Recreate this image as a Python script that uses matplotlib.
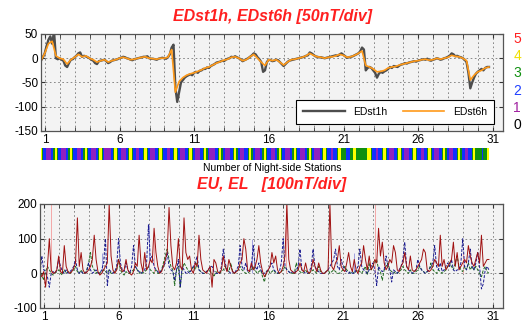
import numpy as np
import matplotlib
matplotlib.use('Agg')
import matplotlib.pyplot as plt
from matplotlib.colors import ListedColormap, BoundaryNorm

plt.rcParams['font.family'] = ['Liberation Sans', 'DejaVu Sans']
plt.rcParams['axes.unicode_minus'] = False

# time grid (days of month)
t0 = 0.73

# EDst6h, 4 values per day
edst6h_rows = [
    [-5, 10, 30, 35], [5, 0, -2, -12], [-3, 2, 8, 3], [5, 0, -3, -8],
    [-5, -3, -8, -5], [-3, 0, 2, 0], [-3, -2, 0, 2], [3, 0, -1, -2],
    [0, 0, 2, 18], [-70, -48, -40, -35], [-32, -30, -27, -24], [-20, -18, -14, -10],
    [-7, -4, -2, 2], [3, 0, -5, -3], [3, 8, 0, -8], [-15, -3, -5, -3],
    [-8, -14, -8, -3], [-2, 0, 2, 5], [10, 6, 3, 2], [0, 2, 3, 5],
    [8, 6, 2, 3], [6, 10, 15, -15], [-18, -22, -28, -27], [-25, -20, -18, -17],
    [-14, -12, -10, -8], [-6, -5, -3, -2], [-4, -3, 0, -2], [0, 2, 6, 4],
    [3, 0, -5, -45], [-35, -28, -25, -20], [-18]]

# EDst1h, 8 values per day
edst1h_rows = [
    [-5, 2, 10, 25, 38, 45, 30, 55], [0, -2, 0, -3, -5, -15, -18, -10],
    [-3, -2, 2, 5, 10, 12, 3, 5], [4, 2, 0, -3, -5, -10, -12, -6],
    [-5, -4, -3, -6, -10, -8, -5, -4], [-3, -2, 0, 1, 3, 2, 0, -1],
    [-3, -4, -2, -1, 0, 1, 2, 3], [3, 4, 0, -1, -1, -2, -3, -1],
    [0, 1, 0, -1, 2, 8, 22, 28], [-60, -90, -70, -50, -45, -40, -37, -35],
    [-33, -35, -30, -28, -30, -26, -25, -22], [-22, -19, -20, -16, -14, -12, -9, -8],
    [-7, -5, -6, -3, -1, 0, 3, 2], [4, 2, 0, -2, -6, -4, -2, 0],
    [3, 6, 10, 8, 2, -2, -8, -28], [-25, -8, -3, -4, -6, -5, -3, -4],
    [-8, -12, -16, -12, -8, -5, -4, -3], [-2, -1, 0, 1, 2, 3, 5, 6],
    [12, 10, 7, 4, 3, 2, 2, 1], [0, 1, 2, 3, 4, 5, 6, 5],
    [8, 10, 7, 4, 1, 2, 3, 4], [6, 8, 10, 14, 22, 18, -25, -20],
    [-18, -20, -25, -30, -40, -32, -28, -30], [-27, -25, -22, -18, -20, -16, -17, -18],
    [-15, -13, -12, -10, -11, -9, -8, -7], [-6, -7, -5, -4, -3, -2, -3, -1],
    [-4, -5, -3, -2, 0, -1, -3, -2], [0, 1, 3, 5, 10, 8, 4, 5],
    [3, 2, 0, -3, -8, -30, -62, -50], [-40, -32, -28, -25, -22, -25, -20, -18],
    [-18]]

# number of night-side stations, 12 values per day
stations_days = [
    "432211112234", "432211112234", "432221112234", "432211112234", "432111112234",
    "432211112234", "432211122234", "432211112234", "432221112234", "432211112234",
    "432211112234", "432111112234", "432211112234", "432211122234", "432211112234",
    "432221112234", "432211112234", "432211112234", "432111112234", "432221122234",
    "433332223334", "433333333344", "432221122234", "432211112234", "432211112234",
    "432221112234", "432211112234", "432211122234", "432221122234", "433333233344"]

# EU / EL components, 8 values per day
red_rows = [
    [0, -10, 5, -40, 20, 100, 10, 0], [2, 10, 50, 5, 0, 80, 20, 5],
    [0, 5, 15, 30, 160, 20, 60, 10], [0, 3, 10, 20, 40, 110, 40, 5],
    [-5, 0, 10, 20, 30, 200, 50, 10], [0, 10, 40, 20, 5, 10, 40, 10],
    [0, -5, 5, 30, 20, 110, 30, 5], [60, 10, 20, 40, 30, 130, 60, 20],
    [0, 5, 20, 40, 60, 190, 80, 20], [10, 30, 100, 20, 10, 160, 60, 40],
    [50, 10, 0, 30, 20, 110, 40, 10], [5, 0, 10, 20, -40, 40, 30, 5],
    [0, 10, 50, 20, 5, 40, 20, 5], [0, 5, 10, 30, 40, 100, 70, 10],
    [5, 30, 10, 20, 40, 80, 30, 5], [-10, 0, 10, 20, 60, 30, 50, 10],
    [0, 5, 20, 50, 200, 40, 10, 5], [0, 5, 10, 30, 10, 5, 30, 5],
    [0, 10, 40, 20, 5, 30, 10, 0], [0, 5, 10, 200, 20, 10, 30, 40],
    [80, 20, 10, 5, 30, 60, 20, 5], [40, 10, 0, 20, 30, 80, 40, 10],
    [50, 10, 20, 40, 30, 130, 50, 90], [30, 10, 20, 40, 30, 80, 60, 10],
    [5, 20, 30, 60, 20, 10, 50, 10], [5, 10, 20, 30, 40, 70, 60, 10],
    [5, 10, 20, 40, 30, 20, 110, 20], [40, 10, 20, 30, 40, 90, 20, 60],
    [10, 20, 30, 40, 30, 80, 50, 30], [20, 40, 60, 30, 110, 20, 30, 40],
    [40]]

blue_rows = [
    [0, 50, 10, 5, -10, -40, 0, 5], [0, 10, 40, 20, 5, 0, 10, 0],
    [5, 10, 20, 40, 10, 0, 5, 0], [0, 5, 30, 10, 0, 5, 10, 0],
    [0, 10, 30, 100, -35, 10, 5, 0], [5, 20, 100, 30, 10, 5, 30, 10],
    [0, 20, 80, 20, 10, 5, 0, 5], [10, 30, 140, 40, 50, 20, 10, 5],
    [0, 10, 20, 30, 60, 20, 10, 5], [-20, 10, 40, -40, 20, 10, 0, 5],
    [0, 10, 20, 30, 50, 10, 5, 0], [0, 5, 10, 20, 20, 5, 0, 0],
    [0, 20, 70, 30, 10, 5, 0, 5], [0, 10, 20, 80, 20, 10, 30, 5],
    [5, 20, 80, 20, 10, 30, 10, 0], [0, 5, 10, 20, 30, 10, 5, 0],
    [5, 30, 100, 20, 10, 5, 0, 5], [0, 10, 20, 70, 10, 5, 0, 0],
    [5, 20, 70, 20, 10, 5, 0, 0], [0, 5, 10, 20, 30, 40, 70, 20],
    [10, 40, 20, 10, 5, 0, 5, 0], [0, 10, 20, 70, 20, 10, 5, 0],
    [10, 20, 30, 10, -35, 20, 10, 5], [10, 50, 20, 10, -25, 10, 5, 0],
    [10, 20, 40, 90, 20, 10, 5, 0], [5, 10, 40, 20, 10, 5, 0, 5],
    [10, 20, 30, 80, 20, 10, 30, 5], [10, 20, 30, 20, 40, 10, 5, 10],
    [10, 30, 100, 20, 10, 30, 70, 20], [10, 30, 60, 20, -45, -30, 10, 20],
    [10]]

green_rows = [
    [0, -5, -20, 5, 20, 10, 0, -5], [0, 5, 10, 0, -5, 10, 0, 5],
    [0, 5, 10, 20, 5, 0, 10, 0], [0, 10, 30, 60, 20, 10, 0, 5],
    [0, 5, 10, 5, 0, 10, 0, 0], [5, 10, 40, 10, 0, -5, 5, 0],
    [0, 5, 10, 20, 10, 0, 5, 0], [5, 10, 20, 10, 5, 0, 10, 0],
    [0, 10, 30, 50, 70, 40, 20, 10], [-35, 10, 20, -40, 10, 30, 20, 10],
    [5, 10, 20, 10, 30, 10, 5, 0], [0, 5, 10, 5, 0, -10, 5, 0],
    [0, 5, 10, 20, 10, 5, 30, 5], [0, 5, 10, 20, 10, 5, 0, 0],
    [5, 10, 20, 10, 0, 5, 10, -10], [-25, 5, 10, 0, 5, 10, 0, 0],
    [0, 5, 10, 20, 10, 5, 0, 0], [0, 30, 10, 5, 0, 5, 10, 0],
    [0, 5, 10, 5, 0, 20, 5, 0], [0, 5, 10, 0, 5, 10, 5, 0],
    [0, 5, 10, 20, 10, 5, 0, 5], [0, 5, 10, 5, 0, 10, 20, -5],
    [30, 10, 20, 30, 40, 10, 5, -20], [10, 20, 30, 10, 5, 0, 5, 0],
    [5, 10, 20, 10, 5, 0, 10, 0], [0, 5, 10, 20, 10, 5, 0, 5],
    [10, 30, 10, 5, 0, 10, 5, 0], [5, 10, 20, 30, 20, 10, 30, 50],
    [20, 10, 5, 20, 10, 30, 10, 20], [10, 20, 10, 0, -10, 10, 20, 5],
    [0]]

# thin light spikes
pink_days = [1.45, 8.35, 17.2, 23.15, 29.0]
pink_vals = [200, 100, 200, 200, 60]
lblue_days = [4.9, 8.0, 14.9, 21.7]
lblue_vals = [60, 140, 100, 60]

station_labels = ['5', '4', '3', '2', '1', '0']
station_colors = ['#ff2020', '#f0e000', '#109010', '#2040ff', '#a020a0', 'black']

major_days = [1, 6, 11, 16, 21, 26, 31]

def flat(rows):
    return np.array([v for r in rows for v in r], dtype=float)

e6 = flat(edst6h_rows)
e1 = flat(edst1h_rows)
t6 = t0 + np.arange(len(e6)) * 0.25
t1 = t0 + np.arange(len(e1)) * 0.125
red = flat(red_rows)
blue = flat(blue_rows)
green = flat(green_rows)
tb = t0 + np.arange(len(red)) * 0.125
st = np.array([[int(c) for c in ''.join(stations_days)]])

W, H = 532, 322
fig = plt.figure(figsize=(W / 100, H / 100), dpi=100)

def frac(x0, y0, x1, y1):
    return [x0 / W, 1 - y1 / H, (x1 - x0) / W, (y1 - y0) / H]

xlim = (0.732, 31.67)

def style(ax):
    ax.set_facecolor('#f3f3f3')
    ax.set_xlim(xlim)
    ax.set_xticks(major_days)
    ax.set_xticks(range(1, 32), minor=True)
    ax.tick_params(which='both', direction='in', top=True, right=True,
                   labelsize=8.5, pad=2, length=3, color='#333333')
    ax.grid(True, which='both', axis='x', ls=(0, (2, 3)), color='#777777', lw=0.6)
    ax.grid(True, which='major', axis='y', ls=(0, (2, 3)), color='#777777', lw=0.6)
    for s in ax.spines.values():
        s.set_color('#555555')
        s.set_linewidth(0.9)

# top panel
ax1 = fig.add_axes(frac(41, 34, 503, 131))
style(ax1)
ax1.plot(t1, e1, color='#4d4d4d', lw=1.7, label='EDst1h')
ax1.plot(t6, e6, color='#ff9a1a', lw=1.2, label='EDst6h')
ax1.set_ylim(-150, 50)
ax1.set_yticks([50, 0, -50, -100, -150])
leg = ax1.legend(loc='lower left', bbox_to_anchor=(0.54, 0.015), ncol=2, fontsize=7.5,
                 fancybox=False, framealpha=1, edgecolor='black', handlelength=4,
                 columnspacing=1.5, borderpad=0.7)
leg.get_frame().set_linewidth(0.8)

# station strip
ax2 = fig.add_axes(frac(41, 148, 503, 160))
cmap = ListedColormap(['black', '#9020c0', '#1030ff', '#109010', '#ffff00', '#ff2020'])
norm = BoundaryNorm(np.arange(-0.5, 6.5), cmap.N)
ax2.imshow(st, aspect='auto', cmap=cmap, norm=norm, interpolation='nearest',
           extent=(t0, t0 + 30, 0, 1))
ax2.set_xlim(xlim)
ax2.axis('off')

# bottom panel
ax3 = fig.add_axes(frac(40, 204, 503, 308))
style(ax3)
ax3.vlines(pink_days, 0, pink_vals, color='#f4a8a8', lw=0.7)
ax3.vlines(lblue_days, 0, lblue_vals, color='#a0a0dd', lw=0.7)
ax3.plot(tb, green, color='#1f6a1f', lw=0.7, ls=(0, (3, 1.5)))
ax3.plot(tb, blue, color='#1a1a90', lw=0.7, ls=(0, (3, 1.5)))
ax3.plot(tb, red, color='#a01010', lw=0.7)
ax3.set_ylim(-100, 200)
ax3.set_yticks([-100, 0, 100, 200])

# texts
tkw = dict(ha='center', va='center', color='#ff2020', fontsize=11.5,
           fontweight='bold', fontstyle='italic')
fig.text(273 / W, 1 - 16 / H, 'EDst1h, EDst6h [50nT/div]', **tkw)
fig.text(272 / W, 1 - 185 / H, 'EU, EL   [100nT/div]', **tkw)
fig.text(272 / W, 1 - 168 / H, 'Number of Night-side Stations', ha='center',
         va='center', fontsize=7.5)
for i, (lab, c) in enumerate(zip(station_labels, station_colors)):
    fig.text(517 / W, 1 - (39 + i * 17.2) / H, lab, color=c, fontsize=10,
             ha='center', va='center')

fig.savefig('out.png', dpi=100)
